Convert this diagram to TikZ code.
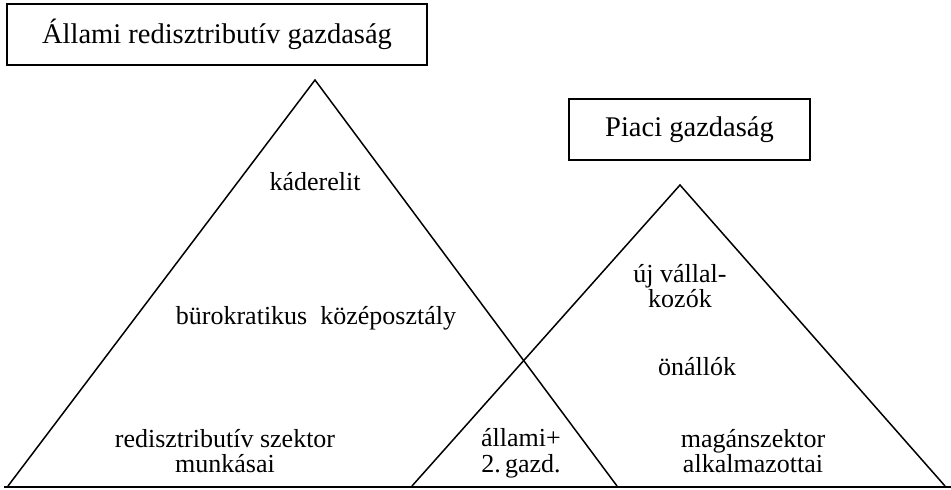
\documentclass[tikz,border=0pt]{standalone}
\usepackage{fontspec}
\setmainfont{Liberation Serif}
\begin{document}
\begin{tikzpicture}[x=1pt, y=-1pt,
    titlebox/.style={draw, rectangle, line width=1.5pt, inner sep=0pt, font=\fontsize{28.5}{34}\selectfont},
    txt/.style={align=center, inner sep=0pt, font=\fontsize{26}{25.5}\selectfont},
    edge/.style={line width=1.5pt}]
\useasboundingbox (0,0) rectangle (951,490);

% Economies
\node[titlebox, minimum width=420, minimum height=61] (redist) at (217,34.5) {Állami redisztributív gazdaság};
\node[titlebox, minimum width=241, minimum height=61] (market) at (689.5,129.5) {Piaci gazdaság};

% Pyramids
\coordinate (redA) at (8,486);
\coordinate (redT) at (315,80);
\coordinate (redB) at (617,486);
\coordinate (mktA) at (412,486);
\coordinate (mktT) at (680,185);
\coordinate (mktB) at (945,486);
\draw[edge] (redA) -- (redT) -- (redB);
\draw[edge] (mktA) -- (mktT) -- (mktB);

% Ground line
\coordinate (floorL) at (4,487);
\coordinate (floorR) at (951,487);
\draw[line width=2.5pt] (floorL) -- (floorR);

% Strata, state side
\node[txt, anchor=base] (kader) at (315,190) {káderelit};
\node[txt, anchor=base] (burok) at (316,324) {bürokratikus\ \ középosztály};
\node[txt] (munkas) at (225,451) {redisztributív szektor\\munkásai};

% Overlap
\node[txt] (mixed) at (521,453.5) {állami+\\2.\,gazd.};

% Strata, market side
\node[txt] (vallal) at (680,286) {új vállal-\\kozók};
\node[txt, anchor=base] (onallo) at (697,375) {önállók};
\node[txt] (alkalm) at (753,451) {magánszektor\\alkalmazottai};
\end{tikzpicture}
\end{document}
